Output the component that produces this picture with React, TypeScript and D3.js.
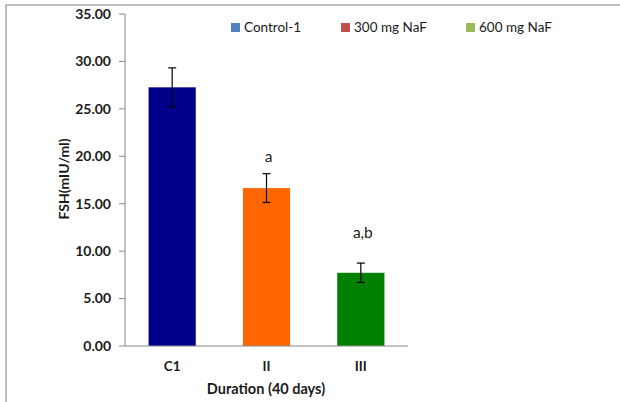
import React from "react";
import * as d3 from "d3";

const categories = ["C1", "II", "III"];
const values = [27.27, 16.65, 7.72];
const errors = [2.05, 1.52, 1.02];
const sigLabels = ["", "a", "a,b"];
// vertical placement of the significance letters, in axis units
const sigLabelAt = [0, 20, 12];
const barColors = ["#00008B", "#FF6600", "#008000"];
const legendLabels = ["Control-1", "300 mg NaF", "600 mg NaF"];
const legendColors = ["#4F81BD", "#C0504D", "#9BBB59"];
const yTicks = [0, 5, 10, 15, 20, 25, 30, 35];

const W = 620;
const H = 402;
const plot = { left: 125, right: 408, top: 14, bottom: 346 };
const font = "Lato, 'Open Sans', sans-serif";
const textColor = "#1a1a1a";

export default function App() {
  const x = d3
    .scaleBand<string>()
    .domain(categories)
    .range([plot.left, plot.right])
    .paddingInner(0.5)
    .paddingOuter(0.25);
  const y = d3.scaleLinear().domain([0, 35]).range([plot.bottom, plot.top]);
  const fmt = d3.format(".2f");
  const legendX = [231, 341, 466];

  return (
    <svg
      width={W}
      height={H}
      style={{ position: "absolute", left: 0, top: 0, background: "#fff" }}
      fontFamily={font}
    >
      {/* chart frame */}
      <line x1={6} x2={W} y1={5} y2={5} stroke="#a6a6a6" strokeWidth={1.5} />
      <line x1={6} x2={6} y1={5} y2={H} stroke="#a6a6a6" strokeWidth={1.5} />

      {/* bars */}
      {categories.map((c, i) => (
        <rect
          key={c}
          x={x(c)}
          y={y(values[i])}
          width={x.bandwidth()}
          height={y(0) - y(values[i])}
          fill={barColors[i]}
        />
      ))}

      {/* error bars */}
      {categories.map((c, i) => {
        const cx = (x(c) as number) + x.bandwidth() / 2;
        const top = y(values[i] + errors[i]);
        const bot = y(values[i] - errors[i]);
        return (
          <g key={"e" + c} stroke="#000" strokeWidth={1.2}>
            <line x1={cx} x2={cx} y1={top} y2={bot} />
            <line x1={cx - 4} x2={cx + 4} y1={top} y2={top} />
            <line x1={cx - 4} x2={cx + 4} y1={bot} y2={bot} />
          </g>
        );
      })}

      {/* significance letters */}
      {categories.map((c, i) =>
        sigLabels[i] ? (
          <text
            key={"s" + c}
            x={(x(c) as number) + x.bandwidth() / 2 + 2}
            y={y(sigLabelAt[i])}
            dy="0.35em"
            textAnchor="middle"
            fontSize={15.5}
            fill={textColor}
          >
            {sigLabels[i]}
          </text>
        ) : null
      )}

      {/* y axis */}
      <line x1={plot.left} x2={plot.left} y1={plot.top} y2={plot.bottom} stroke="#888" />
      {yTicks.map((t) => (
        <g key={t}>
          <line x1={plot.left - 6} x2={plot.left} y1={y(t)} y2={y(t)} stroke="#888" />
          <text
            x={111}
            y={y(t)}
            dy="0.35em"
            textAnchor="end"
            fontSize={14}
            fontWeight="bold"
            fill={textColor}
          >
            {fmt(t)}
          </text>
        </g>
      ))}

      {/* x axis */}
      <line x1={plot.left} x2={plot.right} y1={plot.bottom} y2={plot.bottom} stroke="#888" />
      {categories.map((c) => (
        <text
          key={"x" + c}
          x={(x(c) as number) + x.bandwidth() / 2}
          y={366}
          dy="0.35em"
          textAnchor="middle"
          fontSize={13.5}
          fontWeight="bold"
          fill={textColor}
        >
          {c}
        </text>
      ))}

      {/* axis titles */}
      <text
        x={266}
        y={389}
        dy="0.35em"
        textAnchor="middle"
        fontSize={14.5}
        fontWeight="bold"
        fill={textColor}
      >
        Duration (40 days)
      </text>
      <text
        transform="translate(64,179) rotate(-90)"
        dy="0.35em"
        textAnchor="middle"
        fontSize={14}
        fontWeight="bold"
        fill={textColor}
      >
        FSH(mIU/ml)
      </text>

      {/* legend */}
      {legendLabels.map((l, i) => (
        <g key={l}>
          <rect x={legendX[i]} y={23} width={9} height={9} fill={legendColors[i]} />
          <text
            x={legendX[i] + 13}
            y={27.5}
            dy="0.35em"
            fontSize={13.5}
            fill={textColor}
          >
            {l}
          </text>
        </g>
      ))}
    </svg>
  );
}
